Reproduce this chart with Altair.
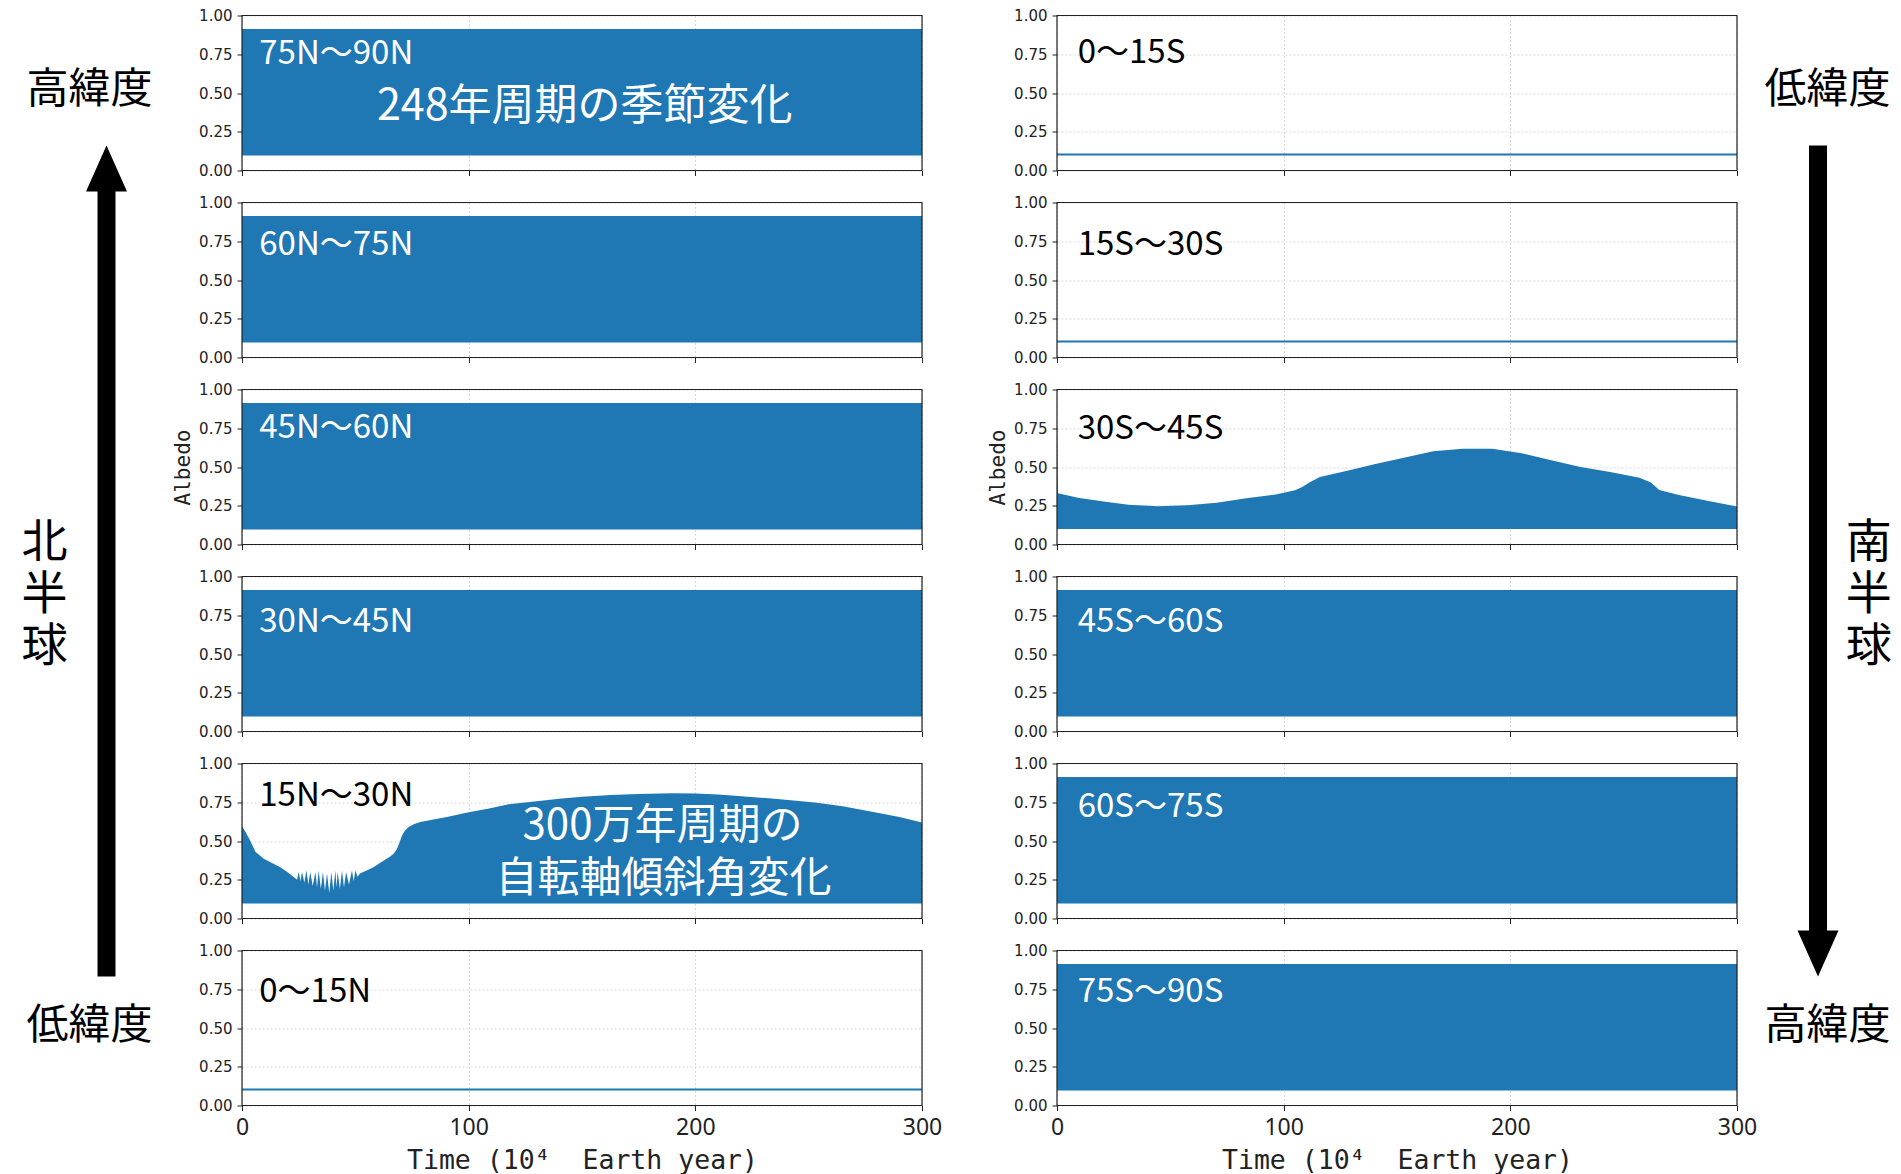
import altair as alt
import pandas as pd

BLUE = "#1f77b4"
INK = "#222222"
JP = "Noto Sans CJK JP"
PANEL_W, PANEL_H = 680, 155

# axes: time in 10^4 Earth years, albedo 0..1
X_TICKS = [0, 100, 200, 300]
Y_TICKS = [0.0, 0.25, 0.50, 0.75, 1.0]

NORTH = ["75N～90N", "60N～75N", "45N～60N", "30N～45N", "15N～30N", "0～15N"]
SOUTH = ["0～15S", "15S～30S", "30S～45S", "45S～60S", "60S～75S", "75S～90S"]

# bands whose seasonal swing fills the whole range all the time
FLAT_T = [0, 300]
SEASONAL_TOP = [0.913, 0.913]
# low-latitude bands that stay ice free
TROPICAL_TOP = [0.109, 0.109]
FLOOR = 0.097
S30_FLOOR = 0.100

# upper envelope of the 15N-30N band
N15_T = [0, 1.5, 3.7, 5.9, 9.6, 13, 16.9, 20, 23.5,
         24.3, 25.0, 25.8, 26.5, 27.5, 28.4, 29.3, 30.1, 31.2, 32.4, 33.1, 33.8,
         34.8, 35.7, 36.6, 37.5, 38.5, 39.4, 40.3, 41.2, 41.7, 42.2, 43.2, 44.1,
         45.0, 45.9, 47.2, 48.5, 49.3, 50.0, 51.0, 52.0,
         55, 58, 61, 65.4, 67, 68.4, 69.5, 70.6, 72, 73.5, 76, 78.7, 85, 90.4,
         95, 100, 109.6, 117.6, 130, 140, 150, 162.6, 175, 189.6, 200, 210, 219,
         235, 252.7, 265, 279.7, 290, 300]
N15_TOP = [0.595, 0.56, 0.50, 0.43, 0.385, 0.36, 0.33, 0.30, 0.26,
           0.25, 0.30, 0.24, 0.30, 0.23, 0.31, 0.22, 0.30, 0.21, 0.30, 0.20, 0.31,
           0.19, 0.30, 0.18, 0.29, 0.165, 0.30, 0.18, 0.31, 0.20, 0.30, 0.19, 0.31,
           0.20, 0.30, 0.22, 0.31, 0.24, 0.31, 0.27, 0.29,
           0.31, 0.33, 0.36, 0.40, 0.42, 0.45, 0.49, 0.535, 0.57, 0.59, 0.61, 0.622,
           0.64, 0.655, 0.67, 0.685, 0.712, 0.737, 0.757, 0.773, 0.786, 0.797, 0.804,
           0.808, 0.806, 0.80, 0.79, 0.772, 0.748, 0.725, 0.684, 0.655, 0.62]

# upper envelope of the 30S-45S band
S30_T = [0, 0.4, 9.8, 20.6, 31.5, 44.5, 57.5, 70.5, 83.5, 96.5, 105, 108, 111.7,
         116, 129, 140, 153, 166, 179, 192, 205, 218, 231, 244, 257, 262, 265.7,
         274.4, 287.4, 300]
S30_TOP = [0.82, 0.33, 0.30, 0.277, 0.257, 0.247, 0.253, 0.27, 0.298, 0.323, 0.35,
           0.37, 0.404, 0.436, 0.479, 0.517, 0.56, 0.602, 0.617, 0.617, 0.589, 0.543,
           0.50, 0.468, 0.43, 0.40, 0.351, 0.319, 0.281, 0.245]

SERIES = {
    "75N～90N": (FLAT_T, SEASONAL_TOP, FLOOR),
    "60N～75N": (FLAT_T, SEASONAL_TOP, FLOOR),
    "45N～60N": (FLAT_T, SEASONAL_TOP, FLOOR),
    "30N～45N": (FLAT_T, SEASONAL_TOP, FLOOR),
    "15N～30N": (N15_T, N15_TOP, FLOOR),
    "0～15N": (FLAT_T, TROPICAL_TOP, FLOOR),
    "0～15S": (FLAT_T, TROPICAL_TOP, FLOOR),
    "15S～30S": (FLAT_T, TROPICAL_TOP, FLOOR),
    "30S～45S": (S30_T, S30_TOP, S30_FLOOR),
    "45S～60S": (FLAT_T, SEASONAL_TOP, FLOOR),
    "60S～75S": (FLAT_T, SEASONAL_TOP, FLOOR),
    "75S～90S": (FLAT_T, SEASONAL_TOP, FLOOR),
}

# baseline of each band name, in pixels below the top of its panel
LABEL_Y = {
    "75N～90N": 48, "60N～75N": 52, "45N～60N": 48, "30N～45N": 55,
    "15N～30N": 42, "0～15N": 51.5,
    "0～15S": 47.5, "15S～30S": 52, "30S～45S": 49.5, "45S～60S": 55,
    "60S～75S": 53.7, "75S～90S": 51.5,
}
DARK_LABELS = {"15N～30N", "0～15N", "0～15S", "15S～30S", "30S～45S"}

ONE = alt.Data(values=[{}])


def text_at(text, x, y, size, color="black", align="center", baseline="middle",
            line_height=None):
    """Free text placed in pixels relative to the panel's plot area."""
    style = dict(font=JP, fontSize=size, color=color, align=align, baseline=baseline)
    if line_height is not None:
        style["lineHeight"] = line_height
    return alt.Chart(ONE).mark_text(**style).encode(
        x=alt.value(x), y=alt.value(y), text=alt.value(text))


def arrow(x, y_top, y_bottom, up):
    head_path = ("M0,-1.12L1,1.12L-1,1.12Z" if up else "M0,1.12L1,-1.12L-1,-1.12Z")
    if up:
        shaft_from, shaft_to, head_y = y_top + 44, y_bottom, y_top + 23
    else:
        shaft_from, shaft_to, head_y = y_top, y_bottom - 44, y_bottom - 23
    shaft = alt.Chart(ONE).mark_rule(color="black", strokeWidth=18, strokeCap="butt").encode(
        x=alt.value(x), y=alt.value(shaft_from), y2=alt.value(shaft_to))
    head = alt.Chart(ONE).mark_point(
        shape=head_path, size=1681, filled=True, color="black", opacity=1, strokeWidth=0
    ).encode(x=alt.value(x), y=alt.value(head_y))
    return [shaft, head]


def panel(name, row, col):
    t, top, floor = SERIES[name]
    df = pd.DataFrame({"t": t, "albedo": top})
    df["floor"] = floor
    bottom = row == 5
    x_axis = alt.Axis(values=X_TICKS, labels=bottom, grid=True, domain=False,
                      labelFlush=False, labelOverlap=False,
                      title="Time (10⁴\u00a0 Earth year)" if bottom else None)
    y_axis = alt.Axis(values=Y_TICKS, format=".2f", grid=True, domain=False,
                      labelFlush=False, labelOverlap=False, tickCount=5,
                      title="Albedo" if row == 2 else None)
    area = alt.Chart(df).mark_area(color=BLUE, opacity=1).encode(
        x=alt.X("t:Q", scale=alt.Scale(domain=[0, 300], nice=False, zero=False), axis=x_axis),
        y=alt.Y("albedo:Q", scale=alt.Scale(domain=[0, 1], nice=False, zero=True), axis=y_axis),
        y2="floor:Q",
    )
    frame = alt.Chart(ONE).mark_rect(filled=False, stroke=INK, strokeWidth=1.2).encode(
        x=alt.value(0), x2=alt.value(PANEL_W), y=alt.value(0), y2=alt.value(PANEL_H))
    label = text_at(name, 17.3 if col == 0 else 20.7, LABEL_Y[name], 33,
                    color="black" if name in DARK_LABELS else "white",
                    align="left", baseline="alphabetic")
    layers = [area, frame, label]

    if name == "75N～90N":
        layers.append(text_at("248年周期の季節変化", 342.7, 91.5, 43, color="white"))
        # northern hemisphere guide on the far left
        layers += [text_at("高緯度", -152.5, 74, 42), text_at("低緯度", -152.5, 1010, 42)]
        layers.append(text_at(["北", "半", "球"], -197.4, 505.7, 46, baseline="top",
                              line_height=51.7))
        layers += arrow(-135.5, 130, 961, up=True)
    if name == "15N～30N":
        layers.append(text_at("300万年周期の", 420.5, 62.8, 42, color="white"))
        layers.append(text_at("自転軸傾斜角変化", 421.6, 115.3, 42, color="white"))
    if name == "0～15S":
        # southern hemisphere guide on the far right
        layers += [text_at("低緯度", 770.5, 74, 42), text_at("高緯度", 770.5, 1010, 42)]
        layers.append(text_at(["南", "半", "球"], 811.7, 505.7, 46, baseline="top",
                              line_height=51.7))
        layers += arrow(761, 130, 961, up=False)

    return alt.layer(*layers).properties(width=PANEL_W, height=PANEL_H)


cells = []
for r in range(6):
    cells.append(panel(NORTH[r], r, 0))
    cells.append(panel(SOUTH[r], r, 1))

chart = (
    alt.concat(*cells, columns=2, spacing={"row": 32, "column": 135}, bounds="flush")
    .properties(padding={"left": 21, "top": 7.5, "right": 0, "bottom": 0}, background="white")
    .configure_view(stroke="transparent")
    .configure_axis(tickColor=INK, tickWidth=1, tickSize=5, gridColor="#cfcfcf",
                    gridDash=[2, 2], gridWidth=0.8, labelColor=INK, titleColor=INK,
                    titleFontWeight="normal", labelOverlap=False)
    .configure_axisX(labelFont="Noto Sans", labelFontSize=23, labelPadding=6,
                     titleFont="DejaVu Sans Mono", titleFontSize=26.5, titleY=54.5,
                     titleBaseline="middle")
    .configure_axisY(labelFont="DejaVu Sans", labelFontSize=15, labelPadding=5,
                     titleFont="DejaVu Sans Mono", titleFontSize=21, titleX=-59,
                     titleBaseline="middle")
)

chart.save("out.html", embed_options={"renderer": "svg", "actions": False})
